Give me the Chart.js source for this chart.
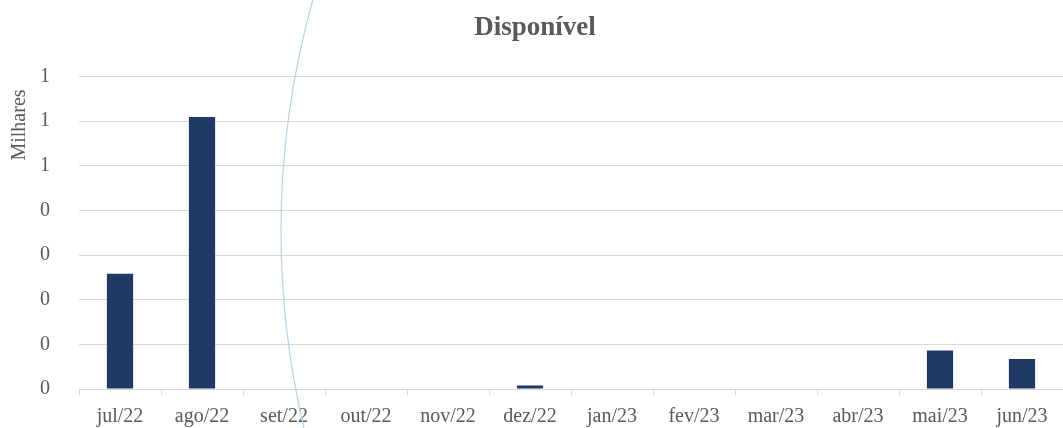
<!DOCTYPE html>
<html>
<head>
<meta charset="utf-8">
<script src="https://cdn.jsdelivr.net/npm/chart.js@4"></script>
<style>
  html,body{margin:0;padding:0;background:#fff;}
  #wrap{width:1063px;height:428px;position:relative;}
</style>
</head>
<body>
<div id="wrap"><canvas id="chart" width="1063" height="428"></canvas></div>
<script>
// data (milhares)
const months = ['jul/22','ago/22','set/22','out/22','nov/22','dez/22','jan/23','fev/23','mar/23','abr/23','mai/23','jun/23'];
const disponivel = [0.258, 0.609, 0, 0, 0, 0.008, 0, 0, 0, 0, 0.086, 0.067];
const yTicks = [0, 0.1, 0.2, 0.3, 0.4, 0.5, 0.6, 0.7];

const txt = '#595959', grid = '#d9d9d9';
const font = "'Liberation Serif', 'DejaVu Serif', serif";

// light blue arc across the picture + the 'Milhares' label (sits high like Excel does it)
const extras = {
  id:'extras',
  afterDraw(chart){
    const c = chart.ctx;
    c.save();
    c.strokeStyle = '#b4d4ea'; c.lineWidth = 1.2;
    c.beginPath();
    c.arc(1135, 231, 854, Math.PI-0.3, Math.PI+0.3);
    c.stroke();
    c.translate(20, 125); c.rotate(-Math.PI/2);
    c.fillStyle = txt; c.font = "20px " + font;
    c.textAlign = 'center'; c.textBaseline = 'middle';
    c.fillText('Milhares', 0, 0);
    c.restore();
  }
};

new Chart(document.getElementById('chart').getContext('2d'), {
  type:'bar',
  data:{ labels: months, datasets:[{ label:'Disponível', data: disponivel, backgroundColor:'#203864', borderWidth:0, barPercentage:0.32, categoryPercentage:1 }] },
  options:{
    responsive:false, animation:false,
    layout:{ padding:{ left:7, right:0, top:0, bottom:0 } },
    plugins:{
      legend:{ display:false }, tooltip:{ enabled:false },
      title:{ display:true, text:'Disponível', color:txt, font:{ family:font, size:27, weight:'bold' }, padding:{ top:12, bottom:32 } }
    },
    scales:{
      x:{
        afterFit(axis){ axis.height = 39; },
        grid:{ offset:true, color:grid, drawOnChartArea:false, tickLength:6 },
        border:{ color:grid },
        ticks:{ color:txt, font:{ family:font, size:20 }, maxRotation:0, padding:10 }
      },
      y:{
        min:0, max:0.7,
        afterBuildTicks(axis){ axis.ticks = yTicks.map(v => ({ value:v })); },
        afterFit(axis){ axis.width = 72; axis.paddingTop = 12; axis.paddingBottom = 12; },
        grid:{ color:grid, drawTicks:false },
        border:{ display:false },
        ticks:{ color:txt, font:{ family:font, size:20 }, padding:29, callback:v => Math.round(v).toString() }
      }
    }
  },
  plugins:[extras]
});
</script>
</body>
</html>
